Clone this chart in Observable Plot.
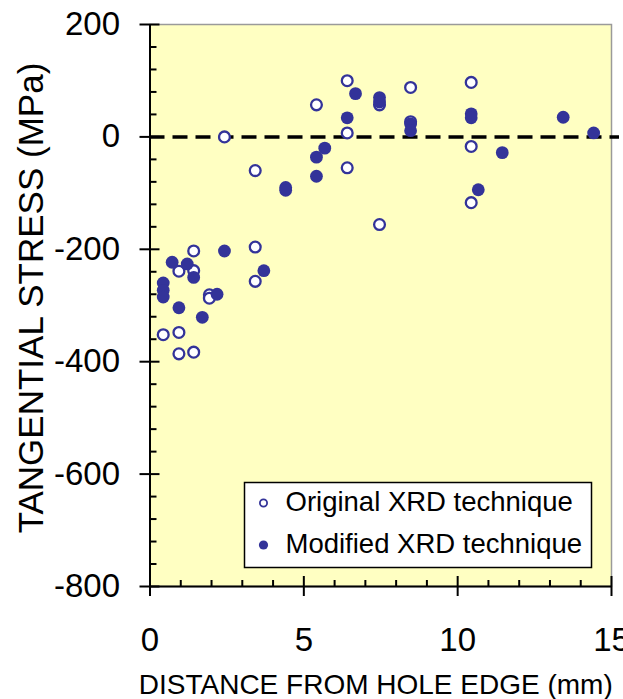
<!DOCTYPE html>
<html><head><meta charset="utf-8">
<script src="https://cdn.jsdelivr.net/npm/d3@7"></script>
<script src="https://cdn.jsdelivr.net/npm/@observablehq/plot@0.6"></script>
<style>body{margin:0;background:#fff;}</style>
</head><body><div id="chart"></div>
<script>
const seriesNames = ["Original XRD technique", "Modified XRD technique"];
const xTitle = "DISTANCE FROM HOLE EDGE (mm)";
const yTitle = "TANGENTIAL STRESS (MPa)";

const origX = [0.43, 0.94, 0.94, 0.94, 1.42, 1.42, 1.42, 1.93, 1.93, 2.42, 3.42, 3.42, 3.42, 5.41, 6.41, 6.41, 6.41, 7.46, 7.46, 8.47, 8.47, 10.44, 10.44, 10.44];
const origY = [-352, -239, -348, -386, -203, -238, -383, -281, -287, 0, -60, -196, -257, 57, 100, 7, -55, 57, -156, 88, 27, 97, -17, -117];

const modX = [0.43, 0.43, 0.43, 0.72, 0.94, 1.21, 1.42, 1.70, 2.18, 2.42, 3.70, 4.41, 4.41, 5.41, 5.41, 5.68, 6.41, 6.68, 7.46, 7.46, 8.47, 8.47, 10.44, 10.44, 10.67, 11.45, 13.43, 14.42];
const modY = [-260, -273, -285, -223, -304, -226, -250, -321, -280, -203, -238, -90, -95, -36, -70, -20, 34, 77, 70, 62, 23, 11, 41, 34, -94, -28, 35, 7];

const xMajor = [0, 5, 10, 15];
const xMinor = [1, 2, 3, 4, 6, 7, 8, 9, 11, 12, 13, 14];
const yMajor = [-800, -600, -400, -200, 0, 200];
const yMinor = [-760, -720, -680, -640, -560, -520, -480, -440, -360, -320, -280, -240, -160, -120, -80, -40, 40, 80, 120, 160];

const orig = origX.map((x, i) => ({x, y: origY[i]}));
const mod = modX.map((x, i) => ({x, y: modY[i]}));

const F = "'Liberation Sans', Arial, Helvetica, sans-serif";
const BLUE = "#333399";
const fmt = d => String(d);

const plot = Plot.plot({
  width: 623, height: 699,
  marginLeft: 149.5, marginRight: 12, marginTop: 24, marginBottom: 113,
  style: {fontFamily: F, background: "white", color: "black", overflow: "visible"},
  x: {domain: [0, 15]},
  y: {domain: [-800, 200]},
  marks: [
    Plot.frame({fill: "#ffffc2", stroke: "#9a9a9a", strokeWidth: 1.5}),
    Plot.ruleY([0], {stroke: "black", strokeWidth: 3.5, strokeDasharray: "15,8", insetRight: -8}),
    Plot.dot(orig, {x: "x", y: "y", r: 5.4, fill: "white", stroke: BLUE, strokeWidth: 2.3}),
    Plot.dot(mod, {x: "x", y: "y", r: 6.4, fill: BLUE, stroke: "none"}),
    Plot.ruleX([0], {stroke: "black", strokeWidth: 2}),
    Plot.ruleY([-800], {stroke: "black", strokeWidth: 2}),
    // y axis
    Plot.axisY(yMajor, {tickSize: 0, tickPadding: 30, fontSize: 33, label: null, tickFormat: fmt}),
    Plot.axisY(yMajor, {tickSize: 20, dx: 10, fill: "none", label: null, strokeWidth: 2}),
    Plot.axisY(yMinor, {tickSize: 7, dx: 7, fill: "none", label: null, strokeWidth: 2}),
    // x axis
    Plot.axisX(xMajor, {tickSize: 0, tickPadding: 41, fontSize: 33, label: null, tickFormat: fmt}),
    Plot.axisX(xMajor, {tickSize: 20, dy: -10, fill: "none", label: null, strokeWidth: 2}),
    Plot.axisX(xMinor, {tickSize: 6, dy: -6, fill: "none", label: null, strokeWidth: 2}),
    // titles
    Plot.text([xTitle], {text: d => d, frameAnchor: "bottom", dx: -5, dy: 88, lineAnchor: "top", fontSize: 28, fill: "black"}),
    Plot.text([yTitle], {text: d => d, frameAnchor: "left", rotate: -90, dx: -118.5, dy: -7.5, fontSize: 35, textAnchor: "middle", lineAnchor: "middle", fill: "black"}),
    // legend
    Plot.frame({fill: "white", stroke: "black", strokeWidth: 1.5, insetLeft: 94.5, insetRight: 20, insetTop: 458, insetBottom: 19}),
    Plot.dot([seriesNames[0]], {frameAnchor: "top-left", dx: 113.5, dy: 478.5, r: 3.6, fill: "white", stroke: BLUE, strokeWidth: 1.8}),
    Plot.dot([seriesNames[1]], {frameAnchor: "top-left", dx: 113.5, dy: 520.5, r: 4.6, fill: BLUE, stroke: "none"}),
    Plot.text([seriesNames[0]], {text: d => d, frameAnchor: "top-left", dx: 135.5, dy: 478, fontSize: 27.5, textAnchor: "start", lineAnchor: "middle", fill: "black"}),
    Plot.text([seriesNames[1]], {text: d => d, frameAnchor: "top-left", dx: 135.5, dy: 520, fontSize: 27.5, textAnchor: "start", lineAnchor: "middle", fill: "black"})
  ]
});
document.getElementById("chart").appendChild(plot);
</script>
</body></html>
